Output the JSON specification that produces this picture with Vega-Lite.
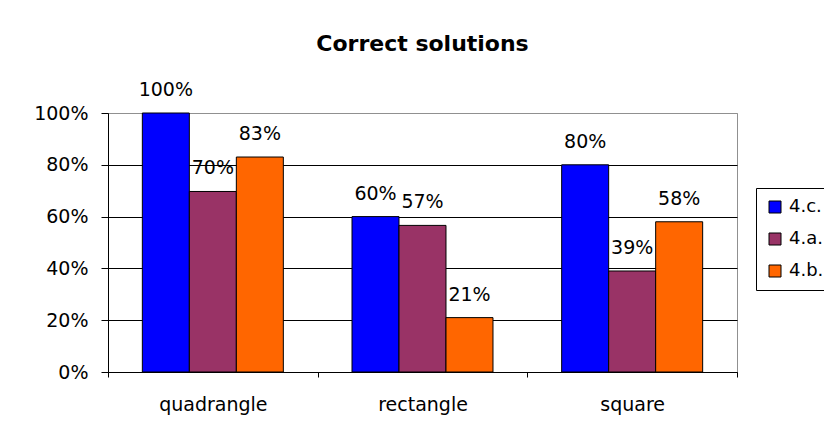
{
  "$schema": "https://vega.github.io/schema/vega-lite/v6.json",
  "autosize": "none",
  "width": 629,
  "height": 259,
  "padding": {"left": 108, "top": 113, "right": 87, "bottom": 64},
  "background": "white",
  "title": {"text": "Correct solutions", "font": "DejaVu Sans", "fontSize": 22, "fontWeight": "bold", "color": "black", "anchor": "middle", "offset": 25},
  "data": {"values": [
    {"shape": "quadrangle", "task": "4.c.", "share": 1.00},
    {"shape": "quadrangle", "task": "4.a.", "share": 0.697},
    {"shape": "quadrangle", "task": "4.b.", "share": 0.83},
    {"shape": "rectangle", "task": "4.c.", "share": 0.60},
    {"shape": "rectangle", "task": "4.a.", "share": 0.566},
    {"shape": "rectangle", "task": "4.b.", "share": 0.21},
    {"shape": "square", "task": "4.c.", "share": 0.80},
    {"shape": "square", "task": "4.a.", "share": 0.39},
    {"shape": "square", "task": "4.b.", "share": 0.58}
  ]},
  "encoding": {
    "x": {"field": "shape", "type": "nominal", "sort": ["quadrangle", "rectangle", "square"],
      "scale": {"paddingInner": 0, "paddingOuter": 0},
      "axis": {"title": null, "labelAngle": 0, "labelFont": "DejaVu Sans", "labelFontSize": 19, "labelColor": "black",
        "domainColor": "black", "tickColor": "black", "tickSize": 5, "tickBand": "extent", "labelPadding": 18, "grid": false}},
    "xOffset": {"field": "task", "type": "nominal", "sort": ["4.c.", "4.a.", "4.b."], "scale": {"paddingInner": 0, "paddingOuter": 0.7305}},
    "y": {"field": "share", "type": "quantitative", "scale": {"domain": [0, 1], "nice": false},
      "axis": {"title": null, "values": [0, 0.2, 0.4, 0.6, 0.8, 1], "format": ".0%", "labelFont": "DejaVu Sans", "labelFontSize": 19, "labelColor": "black",
        "domainColor": "black", "tickColor": "black", "tickSize": 7, "labelPadding": 13,
        "grid": true, "gridColor": {"condition": {"test": "datum.value === 1", "value": "#909090"}, "value": "black"}, "gridOpacity": 1}}
  },
  "layer": [
    {
      "mark": {"type": "bar", "stroke": "black", "strokeWidth": 1},
      "encoding": {
        "color": {"field": "task", "type": "nominal", "sort": ["4.c.", "4.a.", "4.b."],
          "scale": {"domain": ["4.c.", "4.a.", "4.b."], "range": ["#0000FF", "#993366", "#FF6600"]},
          "legend": {"title": null, "orient": "none", "legendX": 648, "legendY": 75, "padding": 10,
            "strokeColor": "black", "fillColor": "white", "symbolType": "square", "symbolSize": 144,
            "symbolStrokeColor": "black", "symbolStrokeWidth": 1, "symbolOpacity": 1,
            "labelFont": "DejaVu Sans", "labelFontSize": 18, "labelColor": "black", "rowPadding": 14, "labelOffset": 5}}
      }
    },
    {
      "mark": {"type": "text", "dy": -23, "baseline": "middle", "font": "DejaVu Sans", "fontSize": 19, "color": "black"},
      "encoding": {"text": {"field": "share", "type": "quantitative", "format": ".0%"}}
    }
  ],
  "config": {"view": {"stroke": "#909090", "strokeWidth": 1}}
}
